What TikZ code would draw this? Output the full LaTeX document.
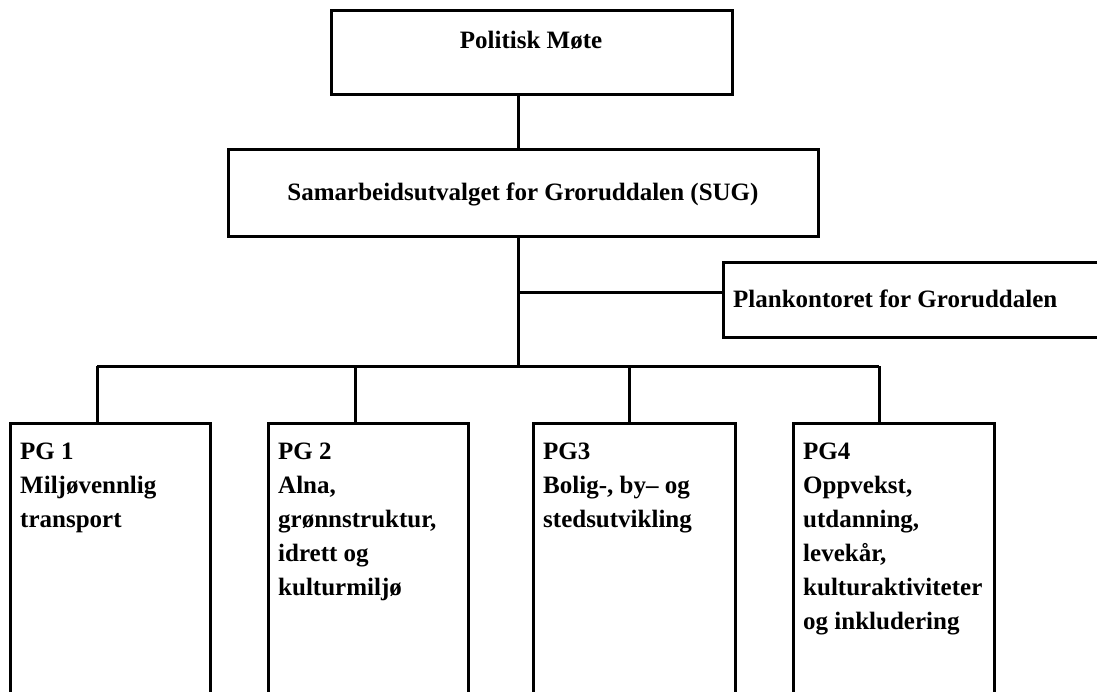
\documentclass[tikz,border=0pt]{standalone}
\usepackage{fontspec}
\setmainfont{Liberation Serif}
\begin{document}
\begin{tikzpicture}[x=1pt,y=-1pt,
  box/.style={draw, line width=3pt, inner sep=0pt, fill=white},
  conn/.style={line width=3pt},
  lbl/.style={font=\bfseries\fontsize{25}{34}\selectfont, inner sep=0pt},
  pglbl/.style={lbl, align=left, anchor=north west}]
\useasboundingbox (0,0) rectangle (1097,691);
\fill[white] (0,0) rectangle (1097,691);
\clip (0,0) rectangle (1097,691);
% boxes
\node[box, minimum width=401pt, minimum height=84pt] (top) at (531.5,52) {};
\node[box, minimum width=590pt, minimum height=87pt] (sug) at (523,192.5) {};
\node[box, minimum width=397pt, minimum height=75pt] (plan) at (921.5,299.5) {};
\node[box, minimum width=200pt, minimum height=297pt] (pg1) at (110,571.5) {};
\node[box, minimum width=200pt, minimum height=297pt] (pg2) at (368,571.5) {};
\node[box, minimum width=202pt, minimum height=297pt] (pg3) at (634,571.5) {};
\node[box, minimum width=201pt, minimum height=297pt] (pg4) at (893.5,571.5) {};
% labels
\node[lbl, anchor=base] (ttop) at (531,48) {Politisk Møte};
\node[lbl, anchor=base] (tsug) at (523,200) {Samarbeidsutvalget for Groruddalen (SUG)};
\node[lbl, anchor=base west] (tplan) at (733,307) {Plankontoret for Groruddalen};
\node[pglbl] (tpg1) at (20,443) {PG 1\\Miljøvennlig\\transport};
\node[pglbl] (tpg2) at (278,443) {PG 2\\Alna,\\grønnstruktur,\\idrett og\\kulturmiljø};
\node[pglbl] (tpg3) at (543,443) {PG3\\Bolig-, by– og\\stedsutvikling};
\node[pglbl] (tpg4) at (803,443) {PG4\\Oppvekst,\\utdanning,\\levekår,\\kulturaktiviteter\\og inkludering};
% connectors
\coordinate (spine) at (518,366);
\coordinate (planj) at (518,292);
\coordinate (b1) at (97,366);
\coordinate (b2) at (355,366);
\coordinate (b3) at (629,366);
\coordinate (b4) at (879,366);
\draw[conn] (spine |- top.south) -- (spine |- sug.north);
\draw[conn] (spine |- sug.south) -- (spine);
\draw[conn] (planj) -- (planj -| plan.west);
\draw[conn] (b1) -- (b4);
\draw[conn] (b1) -- (b1 |- pg1.north);
\draw[conn] (b2) -- (b2 |- pg2.north);
\draw[conn] (b3) -- (b3 |- pg3.north);
\draw[conn] (b4) -- (b4 |- pg4.north);
\end{tikzpicture}
\end{document}
